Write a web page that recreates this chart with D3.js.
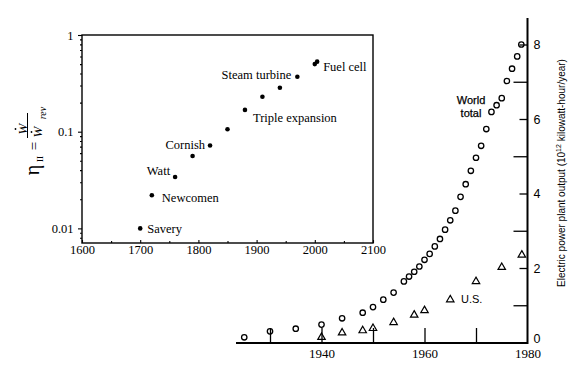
<!DOCTYPE html>
<html><head><meta charset="utf-8">
<script src="https://cdn.jsdelivr.net/npm/d3@7"></script>
<style>body{margin:0;background:#fff} svg{display:block}</style>
</head><body>
<svg id="c" width="586" height="366"></svg>
<script>
// ---- Inset: second-law efficiency of engines ----
const steamYears = [1700, 1720, 1760, 1790, 1820, 1850, 1880, 1910, 1940, 1970, 2000, 2004];
const steamEff   = [0.010, 0.022, 0.034, 0.056, 0.072, 0.106, 0.168, 0.23, 0.285, 0.37, 0.50, 0.53];
const engineNames = ["Savery", "Newcomen", "Watt", "Cornish", "Triple expansion", "Steam turbine", "Fuel cell"];
const engineIdx   = [0, 1, 2, 4, 6, 9, 11];
const insetXTicks = [1600, 1700, 1800, 1900, 2000, 2100];
const insetXMinor = [1650, 1750, 1850, 1950, 2050];
const insetYTicks = [0.01, 0.1, 1];
const insetYTickLabels = ["0.01", "0.1", "1"];

// ---- Main: electric power plant output ----
const worldYears  = [1925, 1930, 1935, 1940, 1944, 1948, 1950, 1952, 1954, 1956, 1957, 1958, 1959, 1960, 1961, 1962, 1963, 1964, 1965, 1966, 1967, 1968, 1969, 1970, 1971, 1972, 1973, 1974, 1975, 1976, 1977, 1978, 1978.8];
const worldOutput = [0.14, 0.30, 0.37, 0.48, 0.65, 0.80, 0.95, 1.15, 1.34, 1.64, 1.77, 1.90, 2.04, 2.22, 2.38, 2.58, 2.78, 3.03, 3.28, 3.54, 3.91, 4.25, 4.61, 4.96, 5.28, 5.73, 6.19, 6.37, 6.56, 7.02, 7.35, 7.68, 8.0];
const usYears  = [1940, 1944, 1948, 1950, 1954, 1958, 1960, 1965, 1970, 1975, 1978.9];
const usOutput = [0.14, 0.26, 0.32, 0.38, 0.54, 0.74, 0.86, 1.15, 1.64, 2.02, 2.35];
const mainXTicks  = [1930, 1940, 1950, 1960, 1970];
const mainXLabels = [1940, 1960, 1980];
const mainYTicks  = [1, 2, 3, 4, 5, 6, 7, 8];
const mainYLabels = [0, 2, 4, 6, 8];

// label placement (layout, not data)
const labelLayout = {
  "Savery": {a: "start", dx: 7, dy: 5},
  "Newcomen": {a: "start", dx: 10, dy: 7},
  "Watt": {a: "end", dx: -5, dy: -2},
  "Cornish": {a: "end", dx: -5, dy: 4},
  "Triple expansion": {a: "start", dx: 8, dy: 12.5},
  "Steam turbine": {a: "end", dx: -6, dy: 2.5},
  "Fuel cell": {a: "start", dx: 6, dy: 9}
};

const SERIF = "'Liberation Serif','Times New Roman',serif";
const SANS = "'Liberation Sans',Arial,sans-serif";
const svg = d3.select("#c");

// ================= INSET =================
const xIn = d3.scaleLinear().domain([1600, 2100]).range([82, 373]);
const yIn = d3.scaleLog().domain([0.00706, 1]).range([243, 35]);

const gIn = svg.append("g");
gIn.append("rect").attr("x", 82).attr("y", 35).attr("width", 373 - 82).attr("height", 243 - 35)
  .attr("fill", "none").attr("stroke", "#000").attr("stroke-width", 1.4);

// left axis
const yMinor = [];
[0.001, 0.01, 0.1].forEach(b => { for (let k = 2; k <= 9; k++) { const v = b * k; if (v >= 0.00706 && v < 1) yMinor.push(v); } });
const axL = gIn.append("g").attr("transform", "translate(82,0)")
  .call(d3.axisLeft(yIn).tickValues(insetYTicks).tickFormat((d, i) => insetYTickLabels[i]).tickSize(4).tickPadding(4.5));
const axLm = gIn.append("g").attr("transform", "translate(82,0)")
  .call(d3.axisLeft(yIn).tickValues(yMinor).tickFormat("").tickSize(2));
// bottom axis
const axB = gIn.append("g").attr("transform", "translate(0,243)")
  .call(d3.axisBottom(xIn).tickValues(insetXTicks).tickFormat(d3.format("d")).tickSizeInner(-3).tickSizeOuter(0).tickPadding(2));
const axBm = gIn.append("g").attr("transform", "translate(0,243)")
  .call(d3.axisBottom(xIn).tickValues(insetXMinor).tickFormat("").tickSizeInner(-2).tickSizeOuter(0));
[axL, axLm, axB, axBm].forEach(a => {
  a.select(".domain").remove();
  a.attr("font-family", null).attr("font-size", null);
  a.selectAll("line").attr("stroke", "#000").attr("stroke-width", 1.1);
  a.selectAll("text").style("font-family", SERIF).style("font-size", "12.5px").attr("fill", "#000");
});

// dots
gIn.selectAll("circle.eng").data(steamYears).join("circle")
  .attr("cx", d => xIn(d)).attr("cy", (d, i) => yIn(steamEff[i])).attr("r", 2.3).attr("fill", "#000");
// labels
engineNames.forEach((name, k) => {
  const i = engineIdx[k], L = labelLayout[name];
  gIn.append("text").attr("x", xIn(steamYears[i]) + L.dx).attr("y", yIn(steamEff[i]) + L.dy)
    .attr("text-anchor", L.a).style("font-family", SERIF).style("font-size", "12.5px").text(name);
});

// y label formula (rotated)
function rtext(x, y, str, size, italic) {
  return svg.append("text").attr("transform", `translate(${x},${y}) rotate(-90)`)
    .attr("text-anchor", "middle").attr("dy", "0.35em")
    .style("font-family", SERIF).style("font-size", size + "px")
    .style("font-style", italic ? "italic" : "normal").text(str);
}
rtext(32, 170, "η", 20, false);
rtext(39.5, 159, "II", 9, false);
rtext(33.5, 146, "=", 15, false);
rtext(22, 129, "W", 13, true);
svg.append("circle").attr("cx", 15.5).attr("cy", 129).attr("r", 0.9).attr("fill", "#000");
svg.append("line").attr("x1", 27.5).attr("x2", 27.5).attr("y1", 113).attr("y2", 138).attr("stroke", "#000").attr("stroke-width", 1);
rtext(37.5, 132, "W", 13, true);
svg.append("circle").attr("cx", 31.5).attr("cy", 132).attr("r", 0.9).attr("fill", "#000");
rtext(42.5, 113, "rev", 10, true);

// ================= MAIN =================
const x = d3.scaleLinear().domain([1930, 1980]).range([270, 527.5]);
const y = d3.scaleLinear().domain([0, 8]).range([342.5, 44.5]);
const axisX = 527.5, axisY = 343;

// bottom axis line + ticks
svg.append("line").attr("x1", x(1923.4)).attr("x2", axisX).attr("y1", axisY).attr("y2", axisY)
  .attr("stroke", "#000").attr("stroke-width", 2);
const mxT = svg.append("g").attr("transform", `translate(0,${axisY})`)
  .call(d3.axisBottom(x).tickValues(mainXTicks).tickFormat("").tickSizeInner(-15).tickSizeOuter(0));
const mxL = svg.append("g").attr("transform", `translate(0,${axisY})`)
  .call(d3.axisBottom(x).tickValues(mainXLabels).tickFormat(d3.format("d")).tickSize(0).tickPadding(6));
// right axis
svg.append("line").attr("x1", axisX).attr("x2", axisX).attr("y1", 18).attr("y2", axisY + 1)
  .attr("stroke", "#000").attr("stroke-width", 2);
const myT = svg.append("g").attr("transform", `translate(${axisX},0)`)
  .call(d3.axisRight(y).tickValues(mainYTicks).tickFormat("").tickSizeInner(-14).tickSizeOuter(0));
myT.selectAll(".tick line").attr("x2", d => d % 2 === 0 ? -8 : -14);
const myL = svg.append("g").attr("transform", `translate(${axisX},0)`)
  .call(d3.axisRight(y).tickValues(mainYLabels).tickFormat(d3.format("d")).tickSize(0).tickPadding(6));
[mxT, mxL, myT, myL].forEach(a => {
  a.select(".domain").remove();
  a.attr("font-family", null).attr("font-size", null);
  a.selectAll("line").attr("stroke", "#000").attr("stroke-width", 1.3);
});
mxL.selectAll("text").style("font-family", SERIF).style("font-size", "13px").attr("fill", "#000");
myL.selectAll("text").style("font-family", SANS).style("font-size", "12.5px").attr("fill", "#000");
myL.selectAll("text").filter(d => d === 0).attr("y", -4);

// world total circles
svg.append("g").selectAll("circle").data(worldYears).join("circle")
  .attr("cx", d => x(d)).attr("cy", (d, i) => y(worldOutput[i])).attr("r", 2.7)
  .attr("fill", "none").attr("stroke", "#000").attr("stroke-width", 1.3);
// US triangles
svg.append("g").selectAll("path").data(usYears).join("path")
  .attr("transform", (d, i) => `translate(${x(d)},${y(usOutput[i])})`)
  .attr("d", d3.symbol(d3.symbolTriangle, 24))
  .attr("fill", "none").attr("stroke", "#000").attr("stroke-width", 1.2);

// series labels
svg.append("text").attr("x", 471).attr("y", 104).attr("text-anchor", "middle")
  .style("font-family", SANS).style("font-size", "11px").style("stroke", "#000").style("stroke-width", 0.25).text("World");
svg.append("text").attr("x", 471).attr("y", 116.5).attr("text-anchor", "middle")
  .style("font-family", SANS).style("font-size", "11px").style("stroke", "#000").style("stroke-width", 0.25).text("total");
svg.append("text").attr("x", 461).attr("y", 303)
  .style("font-family", SANS).style("font-size", "11px").text("U.S.");

// right axis title
const t = svg.append("text").attr("transform", "translate(565,173) rotate(-90)").attr("text-anchor", "middle")
  .style("font-family", SANS).style("font-size", "10px");
t.append("tspan").text("Electric power plant output (10");
t.append("tspan").attr("dy", -4).style("font-size", "7px").text("12");
t.append("tspan").attr("dy", 4).text(" kilowatt-hour/year)");
</script>
</body></html>
